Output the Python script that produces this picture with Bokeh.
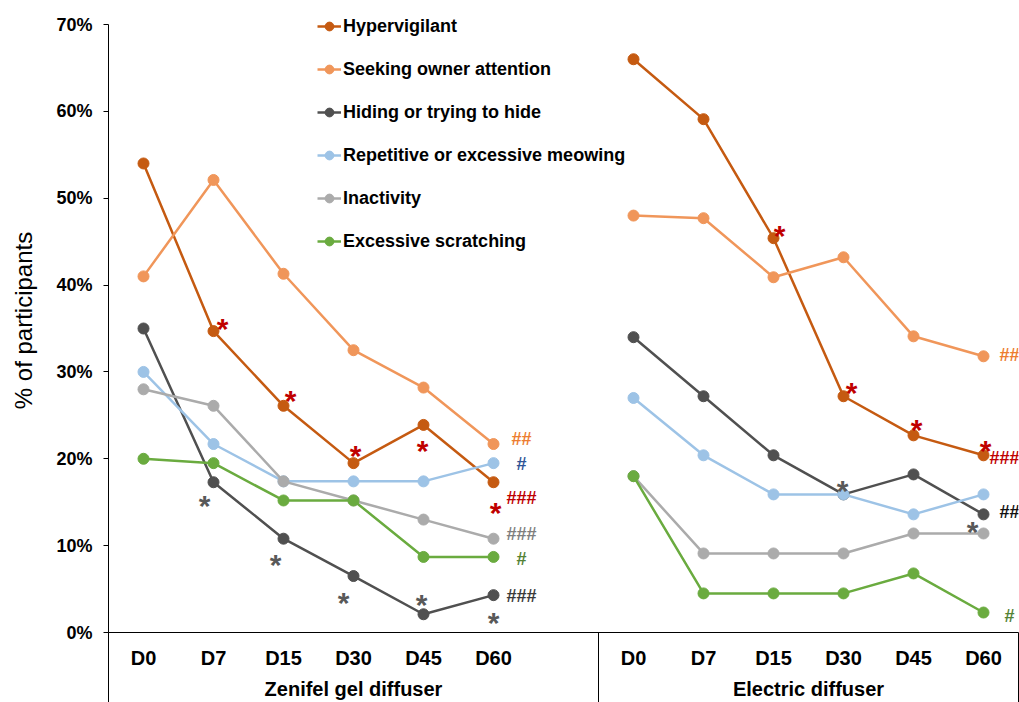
from bokeh.plotting import figure
from bokeh.models import (FixedTicker, LinearAxis, NumeralTickFormatter, Range1d,
                          Legend, LegendItem, ColumnDataSource)
from bokeh.core.properties import value
from bokeh.embed import file_html
from bokeh.resources import INLINE

# ---------------- data ----------------
days = ["D0", "D7", "D15", "D30", "D45", "D60"]
groups = ["Zenifel gel diffuser", "Electric diffuser"]
series = ["Hypervigilant", "Seeking owner attention", "Hiding or trying to hide",
          "Repetitive or excessive meowing", "Inactivity", "Excessive scratching"]

# % of participants, Zenifel gel diffuser
hyper_zen = [54.0, 34.7, 26.1, 19.5, 23.9, 17.3]
seek_zen = [41.0, 52.1, 41.3, 32.5, 28.2, 21.7]
hide_zen = [35.0, 17.3, 10.8, 6.5, 2.1, 4.3]
meow_zen = [30.0, 21.7, 17.4, 17.4, 17.4, 19.5]
inact_zen = [28.0, 26.1, 17.4, 15.2, 13.0, 10.8]
scratch_zen = [20.0, 19.5, 15.2, 15.2, 8.7, 8.7]

# % of participants, Electric diffuser
hyper_ele = [66.0, 59.1, 45.4, 27.2, 22.7, 20.4]
seek_ele = [48.0, 47.7, 40.9, 43.2, 34.1, 31.8]
hide_ele = [34.0, 27.2, 20.4, 15.9, 18.2, 13.6]
meow_ele = [27.0, 20.4, 15.9, 15.9, 13.6, 15.9]
inact_ele = [18.0, 9.1, 9.1, 9.1, 11.4, 11.4]
scratch_ele = [18.0, 4.5, 4.5, 4.5, 6.8, 2.3]

y_ticks = [0.0, 0.1, 0.2, 0.3, 0.4, 0.5, 0.6, 0.7]

zen_values = [hyper_zen, seek_zen, hide_zen, meow_zen, inact_zen, scratch_zen]
ele_values = [hyper_ele, seek_ele, hide_ele, meow_ele, inact_ele, scratch_ele]

# ---------------- styles ----------------
colors = ["#C55A11", "#F0965A", "#505050", "#9DC3E6", "#ABABAB", "#6AAB3F"]
FONT = "Liberation Sans"
RED = "#C00000"
BOTTOM = 70
TOP = 8
HEIGHT = 702
# 70% sits 16px below the frame top; extend the range so the legend fits in the frame
y_top = y_ticks[-1] * (HEIGHT - BOTTOM - TOP) / (HEIGHT - BOTTOM - TOP - 16)

# category slots: 6 days, one empty slot, 6 days
n_slots = len(days) * 2 + 1
slot_of = {(0, i): i for i in range(len(days))}
slot_of.update({(1, i): i + len(days) + 1 for i in range(len(days))})
def xpos(g, i):
    return slot_of[(g, i)] + 0.5

p = figure(width=1019, height=HEIGHT, x_range=Range1d(0, n_slots), y_range=Range1d(0, y_top),
           output_backend="svg", toolbar_location=None, x_axis_location=None,
           min_border_left=108, min_border_right=1, min_border_top=TOP, min_border_bottom=BOTTOM)
p.outline_line_color = None
p.xgrid.visible = False
p.ygrid.visible = False
p.background_fill_color = "white"
p.border_fill_color = "white"

# y axis
ya = p.yaxis[0]
ya.ticker = FixedTicker(ticks=y_ticks)
ya.bounds = (y_ticks[0], y_ticks[-1])
ya.formatter = NumeralTickFormatter(format="0%")
ya.major_tick_out = 5
ya.major_tick_in = 0
ya.minor_tick_line_color = None
ya.axis_line_color = "#000000"
ya.major_tick_line_color = "#000000"
ya.major_label_text_font = FONT
ya.major_label_text_font_style = "bold"
ya.major_label_text_font_size = "18px"
ya.major_label_text_color = "#000000"
ya.major_label_standoff = 11
ya.axis_label = "% of participants"
ya.axis_label_text_font = FONT
ya.axis_label_text_font_style = "normal"
ya.axis_label_text_font_size = "24px"
ya.axis_label_text_color = "#000000"
ya.axis_label_standoff = 16

# x axis: day labels + group separators (long minor ticks)
centers = [xpos(g, i) for g in range(2) for i in range(len(days))]
overrides = {xpos(g, i): days[i] for g in range(2) for i in range(len(days))}
xa = LinearAxis(ticker=FixedTicker(ticks=centers, minor_ticks=[0, len(days) + 1, n_slots]),
                major_label_overrides=overrides)
xa.major_tick_out = 0
xa.major_tick_in = 0
xa.minor_tick_out = BOTTOM
xa.minor_tick_in = 0
xa.minor_tick_line_color = "#000000"
xa.axis_line_color = "#000000"
xa.major_label_text_font = FONT
xa.major_label_text_font_style = "bold"
xa.major_label_text_font_size = "20px"
xa.major_label_text_color = "#000000"
xa.major_label_standoff = 14 - BOTTOM
p.add_layout(xa, "below")

# group labels
gpos = [(len(days) + 1) / 2, (len(days) + 1) + len(days) / 2]
ga = LinearAxis(ticker=FixedTicker(ticks=gpos),
                major_label_overrides={gpos[0]: groups[0], gpos[1]: groups[1]})
ga.axis_line_color = None
ga.major_tick_line_color = None
ga.minor_tick_line_color = None
ga.major_tick_out = 0
ga.major_tick_in = 0
ga.minor_tick_out = 0
ga.major_label_text_font = FONT
ga.major_label_text_font_style = "bold"
ga.major_label_text_font_size = "20px"
ga.major_label_text_color = "#000000"
ga.major_label_standoff = 6
p.add_layout(ga, "below")

# series
items = []
for k, name in enumerate(series):
    xs = [xpos(0, i) for i in range(len(days))] + [float("nan")] + [xpos(1, i) for i in range(len(days))]
    ys = [v / 100 for v in zen_values[k]] + [float("nan")] + [v / 100 for v in ele_values[k]]
    src = ColumnDataSource(dict(x=xs, y=ys))
    lr = p.line("x", "y", source=src, line_color=colors[k], line_width=2.5)
    sr = p.scatter("x", "y", source=src, size=11, fill_color=colors[k], line_color=colors[k])
    items.append(LegendItem(label=name, renderers=[lr, sr]))

legend = Legend(items=items, location=(209, 380), orientation="vertical",
                label_text_font=FONT, label_text_font_style="bold", label_text_font_size="18px",
                label_text_color="#000000", glyph_width=24, glyph_height=22, label_height=22,
                spacing=21, padding=0, margin=0, label_standoff=2,
                border_line_color=None, background_fill_alpha=0)
p.add_layout(legend)

# significance annotations: (series, group, day, text, color, dx, dy)
annotations = [
    (0, 0, 1, "*", RED, 9, -10), (0, 0, 2, "*", RED, 7, -12), (0, 0, 3, "*", RED, 2, -15),
    (0, 0, 4, "*", RED, -1, 19), (0, 0, 5, "*", RED, 2, 23), (0, 0, 5, "###", RED, 28, 16),
    (1, 0, 5, "##", "#ED7D31", 28, -5), (3, 0, 5, "#", "#2F5597", 28, 1),
    (4, 0, 5, "###", "#7F7F7F", 28, -5), (5, 0, 5, "#", "#548235", 28, 2),
    (2, 0, 5, "###", "#3A3A3A", 28, 1), (2, 0, 5, "*", "#595959", 0, 20),
    (2, 0, 1, "*", "#595959", -9, 16), (2, 0, 2, "*", "#595959", -8, 19),
    (2, 0, 3, "*", "#595959", -10, 19), (2, 0, 4, "*", "#595959", -2, -17),
    (0, 1, 2, "*", RED, 6, -10), (0, 1, 3, "*", RED, 8, -11), (0, 1, 4, "*", RED, 3, -13),
    (0, 1, 5, "*", RED, 2, -12), (0, 1, 5, "###", RED, 21, 3),
    (1, 1, 5, "##", "#ED7D31", 26, -1), (2, 1, 5, "##", "#111111", 26, -2),
    (5, 1, 5, "#", "#548235", 26, 3), (2, 1, 3, "*", "#595959", -1, -11),
    (4, 1, 5, "*", "#595959", -11, -9),
]
STAR_SHIFT = 7
ax, ay, at, ac, adx, ady, asz = [], [], [], [], [], [], []
for s, g, d, t, c, dx, dy in annotations:
    vals = zen_values if g == 0 else ele_values
    ax.append(xpos(g, d))
    ay.append(vals[s][d] / 100)
    at.append(t)
    ac.append(c)
    adx.append(dx)
    ady.append(dy + (STAR_SHIFT if t == "*" else 0))
    asz.append("30px" if t == "*" else "18px")
asrc = ColumnDataSource(dict(x=ax, y=ay, t=at, c=ac, dx=adx, dy=ady, sz=asz))
p.text("x", "y", text="t", source=asrc, text_color="c", x_offset="dx", y_offset="dy",
       text_font=value(FONT), text_font_style="bold", text_font_size="sz",
       text_align="center", text_baseline="middle")

open("out.html", "w").write(file_html(p, INLINE))
